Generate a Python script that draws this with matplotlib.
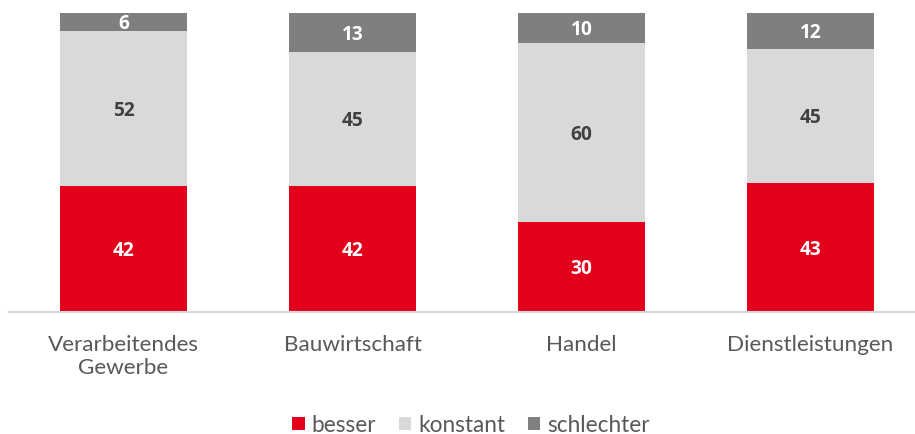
import matplotlib
matplotlib.use("Agg")
import matplotlib.pyplot as plt
from matplotlib.patches import Patch

categories = ["Verarbeitendes\nGewerbe", "Bauwirtschaft", "Handel", "Dienstleistungen"]
besser = [42, 42, 30, 43]
konstant = [52, 45, 60, 45]
schlechter = [6, 13, 10, 12]
series_names = ["besser", "konstant", "schlechter"]

colors = ["#E2001A", "#D9D9D9", "#7F7F7F"]
label_colors = ["white", "#404040", "white"]

plt.rcParams['font.family'] = ['Lato', 'DejaVu Sans']

fig = plt.figure(figsize=(9.15, 4.34), dpi=100)
W, H = 915, 434
ax = fig.add_axes([9 / W, (H - 311.5) / H, 906 / W, 298.5 / H])

x = list(range(len(categories)))
bottoms = [0] * len(categories)
for vals, col, lc in zip([besser, konstant, schlechter], colors, label_colors):
    ax.bar(x, vals, width=0.555, bottom=bottoms, color=col, zorder=2)
    for xi, b, v in zip(x, bottoms, vals):
        ax.text(xi, b + v / 2, str(v), ha="center", va="center_baseline",
                color=lc, fontsize=13.8, fontweight="bold",
                family=["Open Sans", "DejaVu Sans"], zorder=3)
    bottoms = [b + v for b, v in zip(bottoms, vals)]

ax.set_xlim(-0.5, -0.5 + 906 / 229)
ax.set_ylim(0, 100)
for s in ["top", "right", "left"]:
    ax.spines[s].set_visible(False)
ax.spines["bottom"].set_color("#D9D9D9")
ax.spines["bottom"].set_linewidth(1.5)
ax.set_yticks([])
ax.set_xticks(x)
ax.set_xticklabels(categories, fontsize=16.2, color="#595959", linespacing=1.2)
ax.tick_params(axis="x", length=0, pad=17)

handles = [Patch(facecolor=c, edgecolor="none") for c in colors]
fig.legend(handles, series_names, loc="center", bbox_to_anchor=(471 / W, (H - 425) / H),
           ncol=3, frameon=False, fontsize=16.3, labelcolor="#595959",
           handlelength=0.55, handleheight=0.55, handletextpad=0.3, columnspacing=1.0)

fig.savefig("out.png", dpi=100)
